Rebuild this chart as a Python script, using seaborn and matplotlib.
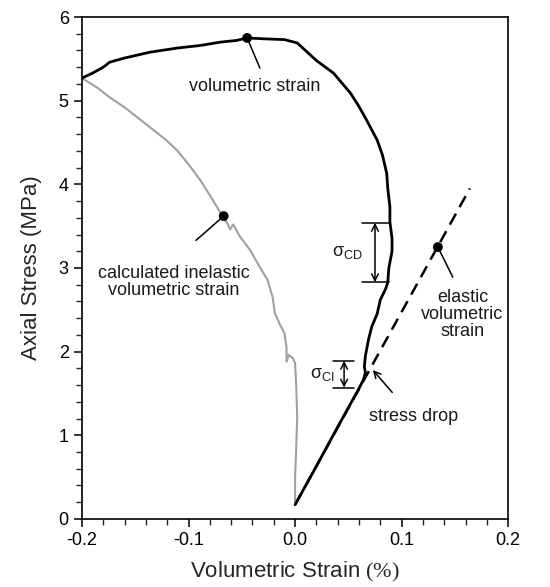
# Stress-strain plot: volumetric strain vs axial stress with crack thresholds

import matplotlib
matplotlib.use("Agg")
import matplotlib.pyplot as plt
from matplotlib.ticker import MultipleLocator
import pandas as pd
import seaborn as sns

# measured volumetric strain (%) and axial stress (MPa)
vol_strain = [0.000, 0.020, 0.040, 0.060, 0.064, 0.066, 0.065, 0.066, 0.069,
              0.072, 0.077, 0.080, 0.085, 0.087, 0.088, 0.091, 0.091, 0.089,
              0.089, 0.087, 0.086, 0.082, 0.077, 0.067, 0.060, 0.052, 0.036,
              0.020, 0.008, 0.002, -0.010, -0.030, -0.045, -0.055, -0.070,
              -0.089, -0.110, -0.136, -0.160, -0.174, -0.180, -0.190, -0.200]
vol_stress = [0.17, 0.63, 1.10, 1.56, 1.66, 1.75, 1.82, 1.95, 2.15,
              2.30, 2.45, 2.62, 2.75, 2.83, 3.00, 3.20, 3.35, 3.55,
              3.73, 3.95, 4.13, 4.35, 4.53, 4.77, 4.93, 5.09, 5.33,
              5.48, 5.62, 5.69, 5.73, 5.74, 5.75, 5.72, 5.70,
              5.66, 5.63, 5.58, 5.51, 5.46, 5.40, 5.33, 5.27]

# calculated inelastic volumetric strain
inel_strain = [-0.200, -0.185, -0.174, -0.160, -0.148, -0.136, -0.122, -0.111,
               -0.100, -0.089, -0.080, -0.070, -0.063, -0.061, -0.058, -0.052,
               -0.042, -0.034, -0.026, -0.021, -0.019, -0.014, -0.010, -0.008,
               -0.008, -0.006, -0.002, 0.000, 0.001, 0.002, 0.001, 0.000, 0.000]
inel_stress = [5.27, 5.15, 5.04, 4.92, 4.80, 4.68, 4.54, 4.41,
               4.24, 4.05, 3.87, 3.66, 3.52, 3.46, 3.52, 3.38,
               3.21, 3.03, 2.86, 2.65, 2.46, 2.32, 2.22, 2.05,
               1.88, 1.96, 1.92, 1.86, 1.62, 1.22, 0.82, 0.50, 0.17]

# elastic volumetric strain (straight line)
elastic_strain = [0.000, 0.164]
elastic_stress = [0.17, 3.95]

# labelled points on each curve
dot_strain = [-0.045, -0.067, 0.134]
dot_stress = [5.75, 3.62, 3.25]

# crack initiation / crack damage thresholds (MPa)
sigma_ci = [1.57, 1.89]
sigma_cd = [2.83, 3.54]

sns.set_style("ticks")
plt.rcParams["font.family"] = ["Liberation Sans", "DejaVu Sans"]
plt.rcParams["mathtext.fontset"] = "custom"
plt.rcParams["mathtext.rm"] = "Liberation Serif"

fig = plt.figure(figsize=(5.5, 5.87), dpi=100)
ax = fig.add_axes([0.149, 0.116, 0.775, 0.855])

df_vol = pd.DataFrame({"strain": vol_strain, "stress": vol_stress})
df_inel = pd.DataFrame({"strain": inel_strain, "stress": inel_stress})
df_el = pd.DataFrame({"strain": elastic_strain, "stress": elastic_stress})

sns.lineplot(data=df_el, x="strain", y="stress", sort=False, estimator=None,
             color="black", linewidth=1.8, dashes=False, ax=ax,
             linestyle=(0, (5, 3)))
sns.lineplot(data=df_inel, x="strain", y="stress", sort=False, estimator=None,
             color="#a0a0a0", linewidth=1.5, ax=ax)
sns.lineplot(data=df_vol, x="strain", y="stress", sort=False, estimator=None,
             color="black", linewidth=2.0, ax=ax)
sns.scatterplot(x=dot_strain, y=dot_stress, color="black", s=50,
                edgecolor="none", zorder=5, ax=ax)

txt = "#1a1a1a"
fs = 13
lead = dict(arrowstyle="-", color="black", linewidth=1.1, shrinkA=0, shrinkB=0)

# leader lines and labels
ax.annotate("", xy=(dot_strain[0], dot_stress[0]), xytext=(-0.033, 5.39),
            arrowprops=lead)
ax.text(-0.038, 5.17, "volumetric strain", ha="center", va="center",
        fontsize=fs, color=txt)
ax.annotate("", xy=(dot_strain[1], dot_stress[1]), xytext=(-0.093, 3.33),
            arrowprops=lead)
ax.text(-0.114, 2.83, "calculated inelastic\nvolumetric strain", ha="center",
        va="center", fontsize=fs, color=txt, linespacing=1.0)
ax.annotate("", xy=(dot_strain[2], dot_stress[2]), xytext=(0.148, 2.89),
            arrowprops=lead)
ax.text(0.157, 2.44, "elastic\nvolumetric\nstrain", ha="center", va="center",
        fontsize=fs, color=txt, linespacing=1.0)

# stress drop arrow
ax.annotate("stress drop", xy=(0.073, 1.78), xytext=(0.111, 1.22),
            ha="center", va="center", fontsize=fs, color=txt,
            arrowprops=dict(arrowstyle="->", color="black", linewidth=1.1,
                            shrinkA=12, shrinkB=0, mutation_scale=12))

# threshold brackets
def bracket(lo, hi, x0, x1, xa, label, xl):
    ax.plot([x0, x1], [lo, lo], color="black", linewidth=1.1)
    ax.plot([x0, x1], [hi, hi], color="black", linewidth=1.1)
    ax.annotate("", xy=(xa, hi), xytext=(xa, lo),
                arrowprops=dict(arrowstyle="<->", color="black", linewidth=1.1,
                                shrinkA=0, shrinkB=0, mutation_scale=12))
    ax.text(xl, (lo + hi) / 2, label, ha="center", va="center", fontsize=fs,
            color=txt)

bracket(sigma_cd[0], sigma_cd[1], 0.063, 0.088, 0.075,
        r"$\mathregular{σ_{CD}}$", 0.049)
bracket(sigma_ci[0], sigma_ci[1], 0.036, 0.055, 0.046,
        r"$\mathregular{σ_{CI}}$", 0.026)

ax.set_xlim(-0.2, 0.2)
ax.set_ylim(0, 6)
ax.xaxis.set_major_locator(MultipleLocator(0.1))
ax.xaxis.set_minor_locator(MultipleLocator(0.02))
ax.yaxis.set_major_locator(MultipleLocator(1))
ax.yaxis.set_minor_locator(MultipleLocator(0.2))
ax.set_xticklabels([f"{v:.1f}" if abs(v) > 1e-9 else "0.0"
                    for v in ax.get_xticks()])
ax.tick_params(which="major", length=6, width=1.1, labelsize=13,
               direction="out", colors="black")
ax.tick_params(which="minor", length=4, width=1.0, direction="out")
for s in ax.spines.values():
    s.set_linewidth(1.2)
    s.set_color("black")

ax.set_xlabel(r"Volumetric Strain $\mathrm{(\%)}$", fontsize=16, labelpad=8)
ax.set_ylabel("Axial Stress (MPa)", fontsize=16, labelpad=12)

fig.savefig("out.png", dpi=100)
